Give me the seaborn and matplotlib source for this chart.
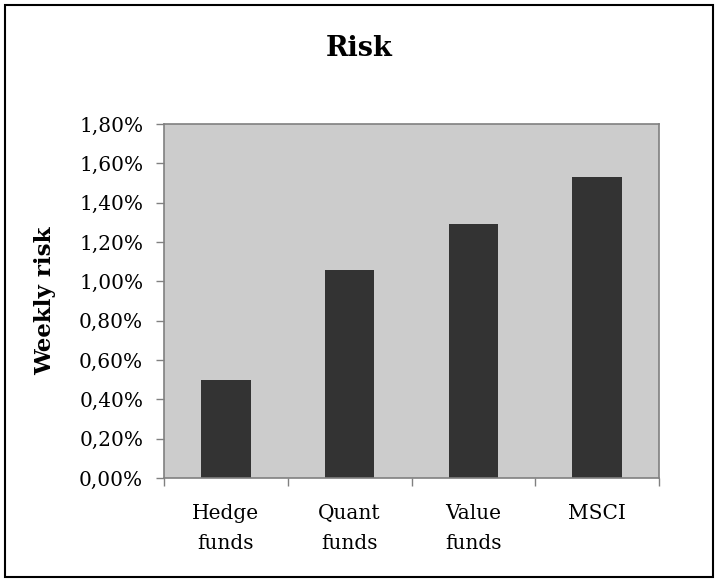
import matplotlib
matplotlib.use("Agg")
import matplotlib.pyplot as plt
import seaborn as sns
import pandas as pd
from matplotlib.ticker import FuncFormatter, FixedLocator
from matplotlib.patches import Rectangle

categories = ["Hedge\nfunds", "Quant\nfunds", "Value\nfunds", "MSCI"]
weekly_risk = [0.50, 1.06, 1.29, 1.53]
yticks = [0.0, 0.2, 0.4, 0.6, 0.8, 1.0, 1.2, 1.4, 1.6, 1.8]

df = pd.DataFrame({"cat": categories, "risk": weekly_risk})

sns.set_theme(style="white")
plt.rcParams["font.family"] = ["DejaVu Serif"]
plt.rcParams["text.color"] = "black"
plt.rcParams["xtick.color"] = "black"
plt.rcParams["ytick.color"] = "black"
plt.rcParams["axes.labelcolor"] = "black"

fig = plt.figure(figsize=(7.19, 5.82), dpi=100)
ax = fig.add_axes([164/719, 1-478/582, (659-164)/719, (478-124)/582])
ax.set_facecolor("#CCCCCC")

sns.barplot(data=df, x="cat", y="risk", color="#333333", width=0.40,
            saturation=1, ax=ax, edgecolor="none")

ax.set_ylim(0, 1.8)
ax.set_xlim(-0.5, 3.5)
ax.yaxis.set_major_locator(FixedLocator(yticks))
ax.yaxis.set_major_formatter(FuncFormatter(lambda v, p: f"{v:.2f}%".replace(".", ",")))
ax.xaxis.set_major_locator(FixedLocator([-0.5, 0.5, 1.5, 2.5, 3.5]))
ax.xaxis.set_minor_locator(FixedLocator([0, 1, 2, 3]))
ax.set_xticklabels([""] * 5)
ax.set_xticklabels(categories, minor=True)
ax.tick_params(axis="x", which="major", direction="out", length=6, width=1, color="#808080", bottom=True)
ax.tick_params(axis="x", which="minor", length=0, pad=19, labelsize=14.5, labelcolor="black")
ax.tick_params(axis="y", direction="out", length=6, width=1, color="#808080", left=True,
               labelsize=14.5, pad=9, labelcolor="black")
for lbl in ax.get_xticklabels(minor=True):
    lbl.set_linespacing(1.7)
    lbl.set_verticalalignment("top")

for s in ax.spines.values():
    s.set_visible(True)
    s.set_color("#808080")
    s.set_linewidth(1.2)

ax.set_xlabel("")
ax.set_ylabel("")
fig.text(45/719, 1-301/582, "Weekly risk", rotation=90, ha="center", va="center",
         fontsize=16.5, fontweight="bold", color="black")
fig.text(0.5, 1-48/582, "Risk", ha="center", va="center", fontsize=19.5,
         fontweight="bold", color="black")

fig.patches.append(Rectangle((5/719, 5/582), 708/719, 572/582, transform=fig.transFigure,
                             fill=False, edgecolor="black", linewidth=1.5))

fig.savefig("out.png", dpi=100, facecolor="white")
